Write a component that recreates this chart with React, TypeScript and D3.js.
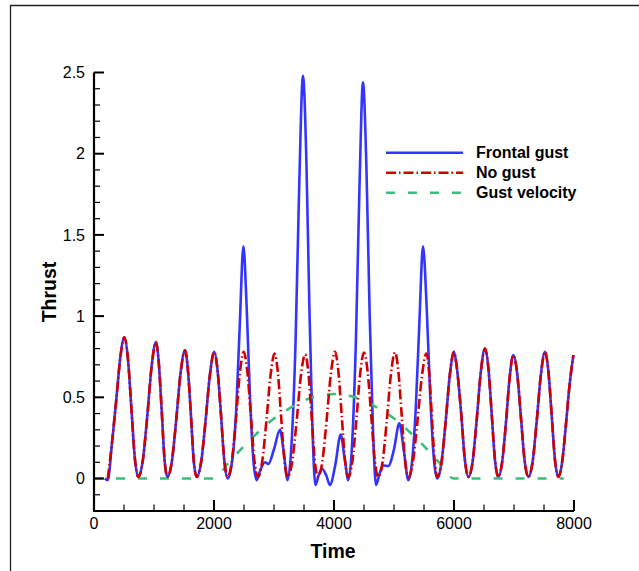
import React from 'react';
import * as d3 from 'd3';

type P = [number, number];

// No gust thrust (time, thrust)
const noGust: P[] = [
  [230, 0.0], [300, 0.22], [370, 0.48], [440, 0.75], [505, 0.87],
  [565, 0.74], [622, 0.44], [682, 0.12], [740, 0.01],
  [813, 0.11], [887, 0.38], [960, 0.69], [1033, 0.84],
  [1080, 0.71], [1128, 0.42], [1175, 0.12], [1222, 0.01],
  [1296, 0.10], [1370, 0.36], [1443, 0.65], [1517, 0.79],
  [1565, 0.67], [1614, 0.40], [1662, 0.11], [1711, 0.01],
  [1785, 0.10], [1858, 0.35], [1932, 0.64], [2005, 0.78],
  [2061, 0.66], [2117, 0.39], [2172, 0.11], [2228, 0.01],
  [2295, 0.10], [2362, 0.35], [2428, 0.64], [2495, 0.78],
  [2555, 0.66], [2614, 0.39], [2674, 0.11], [2733, 0.01],
  [2802, 0.10], [2872, 0.35], [2941, 0.63], [3010, 0.77],
  [3065, 0.65], [3119, 0.38], [3174, 0.11], [3228, 0.01],
  [3301, 0.10], [3374, 0.34], [3447, 0.63], [3520, 0.765],
  [3573, 0.65], [3627, 0.38], [3680, 0.11], [3733, 0.01],
  [3804, 0.10], [3875, 0.35], [3946, 0.64], [4017, 0.78],
  [4073, 0.66], [4128, 0.39], [4184, 0.11], [4239, 0.01],
  [4304, 0.10], [4370, 0.35], [4435, 0.64], [4500, 0.775],
  [4560, 0.66], [4620, 0.39], [4679, 0.11], [4739, 0.01],
  [4809, 0.10], [4878, 0.35], [4948, 0.64], [5017, 0.777],
  [5073, 0.66], [5128, 0.39], [5184, 0.11], [5239, 0.01],
  [5314, 0.10], [5390, 0.35], [5465, 0.63], [5540, 0.77],
  [5586, 0.65], [5631, 0.38], [5677, 0.11], [5722, 0.01],
  [5792, 0.10], [5861, 0.35], [5931, 0.64], [6000, 0.78],
  [6045, 0.69], [6120, 0.40], [6180, 0.12], [6239, 0.01],
  [6309, 0.10], [6378, 0.36], [6448, 0.66], [6517, 0.80],
  [6573, 0.68], [6628, 0.40], [6684, 0.11], [6739, 0.01],
  [6802, 0.10], [6865, 0.34], [6927, 0.62], [6990, 0.76],
  [7052, 0.65], [7115, 0.38], [7177, 0.11], [7239, 0.01],
  [7309, 0.10], [7378, 0.35], [7448, 0.64], [7517, 0.78],
  [7573, 0.66], [7628, 0.39], [7684, 0.11], [7739, 0.01],
  [7802, 0.10], [7865, 0.33], [7927, 0.58], [7990, 0.76],
];

// Frontal gust thrust (time, thrust)
const frontalGust: P[] = [
  [180, 0.0], [230, -0.01], [300, 0.22], [370, 0.48], [440, 0.75], [505, 0.87],
  [565, 0.74], [622, 0.44], [682, 0.12], [740, 0.01],
  [813, 0.11], [887, 0.38], [960, 0.69], [1033, 0.84],
  [1080, 0.71], [1128, 0.42], [1175, 0.12], [1222, 0.01],
  [1296, 0.10], [1370, 0.36], [1443, 0.65], [1517, 0.79],
  [1565, 0.67], [1614, 0.40], [1662, 0.11], [1711, 0.01],
  [1785, 0.10], [1858, 0.35], [1932, 0.64], [2005, 0.78],
  [2061, 0.66], [2117, 0.39], [2172, 0.11], [2228, 0.0],
  [2300, 0.10], [2370, 0.42], [2430, 0.95], [2490, 1.43],
  [2545, 1.05], [2600, 0.50], [2655, 0.12], [2711, -0.01],
  [2770, 0.05], [2850, 0.10], [2905, 0.09], [3000, 0.18], [3100, 0.30],
  [3160, 0.17], [3228, -0.01],
  [3290, 0.20], [3360, 0.85], [3420, 1.80], [3483, 2.48],
  [3540, 1.95], [3590, 1.05], [3640, 0.32], [3690, -0.04],
  [3745, 0.02], [3800, 0.06], [3870, 0.02], [3933, -0.04],
  [4020, 0.08], [4111, 0.27], [4175, 0.13], [4240, -0.01],
  [4300, 0.20], [4365, 0.85], [4425, 1.80], [4483, 2.44],
  [4540, 1.92], [4595, 1.00], [4650, 0.30], [4700, -0.04],
  [4760, 0.03], [4822, 0.08], [4905, 0.077], [5000, 0.18], [5089, 0.34],
  [5165, 0.17], [5239, -0.01],
  [5300, 0.10], [5365, 0.45], [5425, 0.98], [5483, 1.43],
  [5545, 1.05], [5605, 0.50], [5665, 0.12], [5722, 0.0],
  [5792, 0.10], [5861, 0.35], [5931, 0.64], [6000, 0.78],
  [6045, 0.69], [6120, 0.40], [6180, 0.12], [6239, 0.01],
  [6309, 0.10], [6378, 0.36], [6448, 0.66], [6517, 0.80],
  [6573, 0.68], [6628, 0.40], [6684, 0.11], [6739, 0.01],
  [6802, 0.10], [6865, 0.34], [6927, 0.62], [6990, 0.76],
  [7052, 0.65], [7115, 0.38], [7177, 0.11], [7239, 0.01],
  [7309, 0.10], [7378, 0.35], [7448, 0.64], [7517, 0.78],
  [7573, 0.66], [7628, 0.39], [7684, 0.11], [7739, 0.01],
  [7802, 0.10], [7865, 0.33], [7927, 0.58], [7990, 0.76],
];

// Gust velocity (time, value)
const gustVelocity: P[] = [
  [0, 0], [1990, 0], [2250, 0.10], [2500, 0.20], [2750, 0.29], [3000, 0.37],
  [3250, 0.43], [3500, 0.48], [3750, 0.51], [4000, 0.52], [4250, 0.51],
  [4500, 0.48], [4750, 0.43], [5000, 0.37], [5250, 0.29], [5500, 0.20],
  [5750, 0.10], [6000, 0], [7830, 0],
];

const xTicks = [0, 2000, 4000, 6000, 8000];
const yTicks = [0, 0.5, 1, 1.5, 2, 2.5];
const xMinorTicks = [500, 1000, 1500, 2500, 3000, 3500, 4500, 5000, 5500, 6500, 7000, 7500];
const yMinorTicks = [-0.1, 0.1, 0.2, 0.3, 0.4, 0.6, 0.7, 0.8, 0.9, 1.1, 1.2, 1.3, 1.4, 1.6, 1.7, 1.8, 1.9, 2.1, 2.2, 2.3, 2.4];

const legendItems = [
  { label: 'Frontal gust', color: '#3434ff', dash: '' },
  { label: 'No gust', color: '#d10000', dash: '10,3,1.5,3' },
  { label: 'Gust velocity', color: '#3dbd7a', dash: '9,13' },
];

const FONT = '"Liberation Sans", Arial, Helvetica, sans-serif';

export default function App() {
  const x = d3.scaleLinear().domain([0, 8000]).range([94, 574]);
  const y = d3.scaleLinear().domain([-0.2, 2.5]).range([511, 72.5]);
  const line = d3
    .line<P>()
    .x((d) => x(d[0]))
    .y((d) => y(d[1]))
    .curve(d3.curveMonotoneX);

  const x0 = x(0);
  const yB = y(-0.2);

  return (
    <svg
      width={639}
      height={571}
      style={{ position: 'absolute', left: 0, top: 0, background: '#fff' }}
      fontFamily={FONT}
    >
      <rect x={0} y={0} width={639} height={571} fill="#fff" />
      <path d="M10.5,571 V5.5 H639" fill="none" stroke="#222" strokeWidth={1.3} />

      {/* data */}
      <path d={line(frontalGust) || ''} fill="none" stroke="#3434ff" strokeWidth={2.6} strokeLinejoin="round" />
      <path d={line(gustVelocity) || ''} fill="none" stroke="#3dbd7a" strokeWidth={2.6} strokeDasharray="9,13" />
      <path d={line(noGust) || ''} fill="none" stroke="#d10000" strokeWidth={2.6} strokeDasharray="10,3,1.5,3" />

      {/* axes */}
      <line x1={x0} x2={x0} y1={y(2.5)} y2={yB} stroke="#000" strokeWidth={2.2} />
      <line x1={x0 - 1} x2={x(8000)} y1={yB} y2={yB} stroke="#000" strokeWidth={2.2} />
      {yTicks.map((t) => (
        <g key={'yt' + t}>
          <line x1={x0} x2={x0 + 10} y1={y(t)} y2={y(t)} stroke="#000" strokeWidth={2} />
          <text x={85} y={y(t)} dy="0.36em" textAnchor="end" fontSize={16} fill="#000">
            {t}
          </text>
        </g>
      ))}
      {yMinorTicks.map((t) => (
        <line key={'ym' + t} x1={x0} x2={x0 + 6} y1={y(t)} y2={y(t)} stroke="#000" strokeWidth={1.2} />
      ))}
      {xTicks.map((t) => (
        <g key={'xt' + t}>
          <line x1={x(t)} x2={x(t)} y1={yB} y2={yB - 11} stroke="#000" strokeWidth={2} />
          <text x={x(t)} y={529} textAnchor="middle" fontSize={16} fill="#000">
            {t}
          </text>
        </g>
      ))}
      {xMinorTicks.map((t) => (
        <line key={'xm' + t} x1={x(t)} x2={x(t)} y1={yB} y2={yB - 6.5} stroke="#000" strokeWidth={1.2} />
      ))}

      <text x={333} y={558} textAnchor="middle" fontSize={19.5} fontWeight="bold" fill="#000">
        Time
      </text>
      <text
        transform={`translate(56,292) rotate(-90)`}
        textAnchor="middle"
        fontSize={19.5}
        fontWeight="bold"
        fill="#000"
      >
        Thrust
      </text>

      {/* legend */}
      {legendItems.map((it, i) => {
        const ly = 152.7 + i * 20;
        return (
          <g key={it.label}>
            <line
              x1={386}
              x2={463}
              y1={ly}
              y2={ly}
              stroke={it.color}
              strokeWidth={2.6}
              strokeDasharray={it.dash || undefined}
            />
            <text x={476} y={ly + 5.5} fontSize={16} fontWeight="bold" fill="#000">
              {it.label}
            </text>
          </g>
        );
      })}
    </svg>
  );
}
